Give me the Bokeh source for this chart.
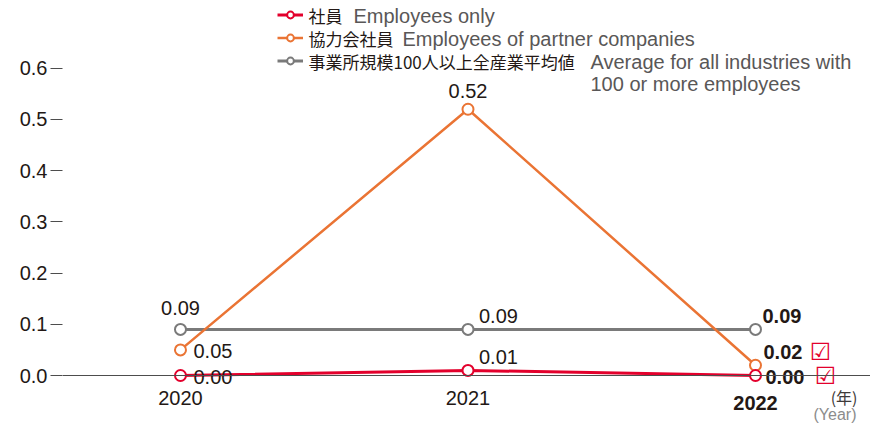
from bokeh.plotting import figure
from bokeh.models import Range1d, Span, Legend, LegendItem, Label, FixedTicker, PrintfTickFormatter
from bokeh.core.properties import value
from bokeh.embed import file_html
from bokeh.resources import INLINE

# ---- data ----
years = [2020, 2021, 2022]
x_labels = ["2020", "2021", "2022"]
employees = [0.00, 0.01, 0.00]
partners = [0.05, 0.52, 0.02]
industry_avg = [0.09, 0.09, 0.09]
y_ticks = [0.0, 0.1, 0.2, 0.3, 0.4, 0.5, 0.6]

legend_jp = ["社員", "協力会社員", "事業所規模100人以上全産業平均値"]
legend_en = ["Employees only", "Employees of partner companies",
             "Average for all industries with", "100 or more employees"]
unit_jp = "(年)"
unit_en = "(Year)"

# ---- styles ----
RED = "#e3002c"
ORANGE = "#ea7434"
GRAY = "#7a7a7a"
INK = "#231815"
SUB = "#595757"
LAT = value("Liberation Sans")
NUM_SIZE = "20px"

p = figure(width=870, height=426, output_backend="svg", toolbar_location=None,
           x_range=Range1d(2019.5896, 2022.4), y_range=Range1d(-0.0996, 0.7324),
           min_border_left=62, min_border_right=0, min_border_top=0, min_border_bottom=0,
           x_axis_location=None)
p.grid.visible = False
p.outline_line_color = None
p.background_fill_color = "white"
p.border_fill_color = "white"

ax = p.yaxis[0]
ax.ticker = FixedTicker(ticks=y_ticks)
ax.formatter = PrintfTickFormatter(format="%.1f")
ax.axis_line_color = None
ax.major_tick_in = 0
ax.major_tick_out = 12
ax.major_tick_line_color = "#4d4d4d"
ax.minor_tick_line_color = None
ax.major_label_standoff = 3
ax.major_label_text_font = "Liberation Sans"
ax.major_label_text_font_size = NUM_SIZE
ax.major_label_text_color = INK

p.add_layout(Span(location=0, dimension="width", line_color="#4d4d4d", line_width=1))

series = [
    (industry_avg, GRAY, 3),
    (partners, ORANGE, 2.5),
    (employees, RED, 3),
]
renderers = []
for vals, color, lw in series:
    rl = p.line(years, vals, line_color=color, line_width=lw)
    rs = p.scatter(years, vals, marker="circle", size=11, fill_color="white",
                   line_color=color, line_width=2)
    renderers.append((rl, rs))

# label placement (offsets in px, align) per series per year
label_style = {
    0: [(0, -21, "center"), (11, -13, "left"), (7, -13, "left")],   # industry avg
    1: [(13, 1, "left"), (0, -18, "center"), (8, -13, "left")],     # partners
    2: [(13, 1, "left"), (11, -13, "left"), (10, 1, "left")],       # employees
}
for si, (vals, color, lw) in enumerate(series):
    for i in range(len(years)):
        dx, dy, al = label_style[si][i]
        p.text(x=[years[i]], y=[vals[i]], text=[f"{vals[i]:.2f}"], x_offset=dx, y_offset=dy,
               text_align=al, text_baseline="middle", text_font=LAT, text_font_size=NUM_SIZE,
               text_font_style="bold" if i == 2 else "normal", text_color=INK)

# check marks next to latest values
for vals, dx, dy in [(partners, 65, -13), (employees, 70, 0)]:
    p.text(x=[years[2]], y=[vals[2]], text=["☑"], x_offset=dx, y_offset=dy,
           text_align="center", text_baseline="middle", text_font=value("DejaVu Sans"),
           text_font_size="24px", text_font_style="bold", text_color=RED)

# x category labels
for i in range(len(years)):
    p.text(x=[years[i]], y=[0], text=[x_labels[i]], y_offset=27 if i == 2 else 22,
           text_align="center", text_baseline="middle", text_font=LAT, text_font_size=NUM_SIZE,
           text_font_style="bold" if i == 2 else "normal", text_color=INK)

# units (screen units measured from the frame's bottom-left)
p.add_layout(Label(x=795, y=30, x_units="screen", y_units="screen", text=unit_jp,
                   text_align="right", text_baseline="middle", text_font="Noto Sans CJK JP",
                   text_font_size="16px", text_color="#3e3a39"))
p.add_layout(Label(x=794, y=12, x_units="screen", y_units="screen", text=unit_en,
                   text_align="right", text_baseline="middle", text_font="Liberation Sans",
                   text_font_size="16px", text_color="#8c8c8c"))

# legend swatches (line + circle), texts as labels beside them
order = [2, 1, 0]
items = [LegendItem(label=" ", renderers=list(renderers[order[k]])) for k in range(3)]
legend = Legend(items=items, location=(215, 357), orientation="vertical",
                glyph_width=26, glyph_height=17, label_height=17, label_width=1,
                label_standoff=0, spacing=6, padding=0, margin=0, border_line_color=None,
                background_fill_alpha=0, label_text_font_size="1px")
p.add_layout(legend)

jp_pos = [(246, 411), (246, 388), (246, 365)]
for txt, (lx, ly) in zip(legend_jp, jp_pos):
    p.add_layout(Label(x=lx, y=ly, x_units="screen", y_units="screen", text=txt,
                       text_align="left", text_baseline="middle", text_font="Noto Sans CJK JP",
                       text_font_size="17px", text_color=INK))

en_pos = [(291, 411), (340, 388), (528, 365), (528, 343)]
for txt, (lx, ly) in zip(legend_en, en_pos):
    p.add_layout(Label(x=lx, y=ly, x_units="screen", y_units="screen", text=txt,
                       text_align="left", text_baseline="middle", text_font="Liberation Sans",
                       text_font_size="20px", text_color=SUB))

open("out.html", "w").write(file_html(p, INLINE))
